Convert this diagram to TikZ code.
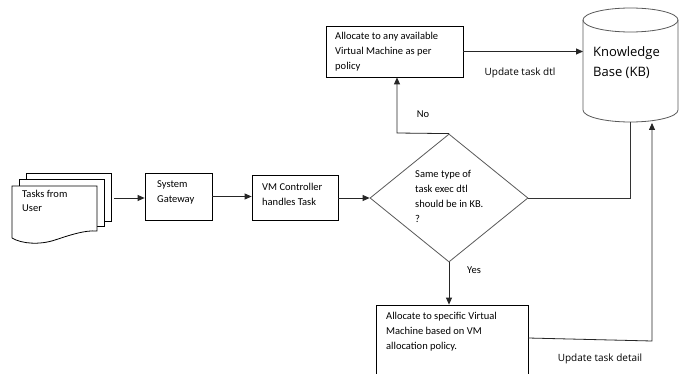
\documentclass[tikz,border=0pt]{standalone}
\usepackage{fontspec}
\setmainfont{Carlito}
\newfontfamily\labelfont{Open Sans}
\usetikzlibrary{shapes.geometric,arrows.meta}
\begin{document}
\begin{tikzpicture}[x=1pt,y=-1pt,
  box/.style={draw=black, line width=0.8pt, inner sep=0pt},
  txt/.style={anchor=north west, inner sep=0pt, align=left, font=\fontsize{10.5}{15}\selectfont},
  lbl/.style={inner sep=0pt, font=\fontsize{10.5}{15}\selectfont},
  olbl/.style={inner sep=0pt, font=\labelfont\fontsize{10}{12}\selectfont},
  arr/.style={draw=black!85, line width=0.8pt, -{Triangle[length=7pt,width=6pt]}},
  conn/.style={draw=black!80, line width=0.8pt},
  shapeline/.style={draw=black!65, line width=0.8pt}
]
\useasboundingbox (0,0) rectangle (687,374);
\clip (0,0) rectangle (687,374);
\fill[white] (0,0) rectangle (687,374);

% multi-document: Tasks from User
\draw[box] (26,179) -- (26,173) -- (111,173) -- (111,221) -- (104,221);
\draw[box] (19,186) -- (19,179) -- (104,179) -- (104,226) -- (97,226);
\draw[box, fill=white] (12,238) -- (12,186) -- (97,186) -- (97,231)
   .. controls (85,230) and (70,235) .. (55,240)
   .. controls (40,245) and (22,244) .. (12,238);
\node[txt, font=\fontsize{10.5}{14}\selectfont] (taskstxt) at (22,190) {Tasks from\\User};
\coordinate (docsout) at (114,198);

% boxes
\node[box, minimum width=67pt, minimum height=47pt] (gw) at (178.5,196.5) {};
\node[txt] (gwtxt) at (157,180.5) {System\\Gateway};
\node[box, minimum width=86pt, minimum height=45pt] (vmc) at (295,197.5) {};
\node[txt] (vmctxt) at (262,183.5) {VM Controller\\handles Task};
\node[shapeline, shape=diamond, minimum width=158pt, minimum height=128pt, inner sep=0pt] (dec) at (449,198) {};
\node[txt] (dectxt) at (415,170.5) {Same type of\\task exec dtl\\should be in KB.\\?};
\node[box, minimum width=137pt, minimum height=51pt] (top) at (394.5,51.5) {};
\node[txt] (toptxt) at (335,32.5) {Allocate to any available\\Virtual Machine as per\\policy};
\node[box, minimum width=152pt, minimum height=95pt] (bot) at (452,352.5) {};
\node[txt] (bottxt) at (386,312.5) {Allocate to specific Virtual\\Machine based on VM\\allocation policy.};

% knowledge base cylinder
\draw[shapeline] (630.5,20) ellipse [x radius=47.5, y radius=12];
\draw[shapeline] (583,20) -- (583,110) arc[start angle=180, end angle=0, x radius=47.5, y radius=12] -- (678,20);
\node[anchor=north west, inner sep=0pt, align=left, font=\labelfont\fontsize{13}{20}\selectfont] (kbtxt) at (593,46) {Knowledge\\Base (KB)};
\coordinate (kbin) at (583,50);
\coordinate (kbbotA) at (630,122);
\coordinate (kbbotB) at (652,123);

% connectors
\draw[arr] (docsout) -- (docsout -| gw.west);
\draw[arr] (gw.east) -- (gw.east -| vmc.west);
\draw[arr] (vmc.east |- dec.west) -- (dec.west);
\coordinate (nobend) at (397,133);
\draw[arr] (dec.north) -- (nobend) -- (nobend |- top.south);
\draw[arr] (dec.south) -- (dec.south |- bot.north);
\draw[arr] (top.east) -- (top.east -| kbin);
\draw[conn] (dec.east) -| (kbbotA);
\coordinate (botout) at (528,338);
\coordinate (botbend) at (652,341);
\draw[arr] (botout) -- (botbend) -- (kbbotB);

% labels
\node[lbl] (nolbl) at (423,114) {No};
\node[lbl] (yeslbl) at (474,270) {Yes};
\node[olbl] (upd1) at (520,73) {Update task dtl};
\node[olbl] (upd2) at (600,359) {Update task detail};
\end{tikzpicture}
\end{document}
